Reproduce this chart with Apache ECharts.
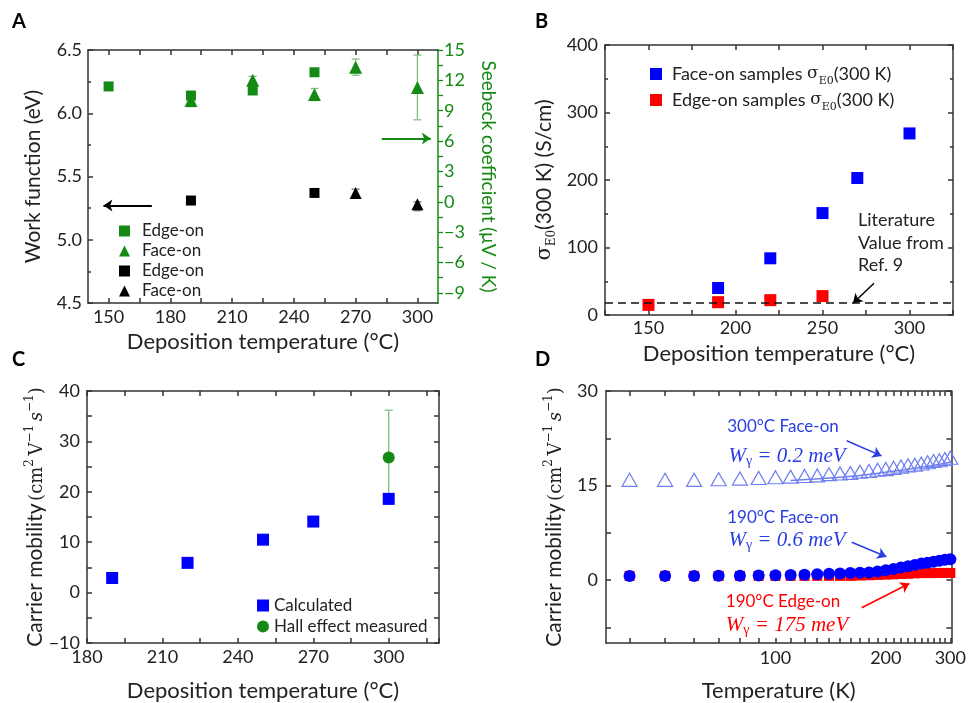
<!DOCTYPE html>
<html><head><meta charset="utf-8">
<script src="https://cdn.jsdelivr.net/npm/echarts@6/dist/echarts.min.js"></script>
<style>html,body{margin:0;padding:0;background:#fff}#c{width:969px;height:703px}</style>
</head><body><div id="c"></div>
<script>
// ---------- Panel A ----------
const depTempAEdge = [150, 190, 220, 250];
const seebeckEdge = [11.4, 10.5, 11.0, 12.8];
const depTempAFace = [190, 220, 250, 270, 300];
const seebeckFace = [10.0, 12.0, 10.6, 13.3, 11.3];
const seebeckFaceLow = [9.4, 11.6, 10.0, 12.5, 8.1];
const seebeckFaceHigh = [10.6, 12.4, 11.2, 14.1, 14.5];
const wfEdgeT = [190, 250];
const wfEdge = [5.31, 5.37];
const wfFaceT = [270, 300];
const wfFace = [5.37, 5.28];
const wfFaceLow = [5.33, 5.23];
const wfFaceHigh = [5.40, 5.30];
const ticksAx = [150, 180, 210, 240, 270, 300];
const ticksSeebeck = [-9, -6, -3, 0, 3, 6, 9, 12, 15];
// ---------- Panel B ----------
const depTempBFace = [190, 220, 250, 270, 300];
const sigmaFace = [40, 84, 151, 203, 269];
const depTempBEdge = [150, 190, 220, 250];
const sigmaEdge = [15, 19, 22, 28];
const literatureSigma = 17.5;
// ---------- Panel C ----------
const depTempC = [190, 220, 250, 270, 300];
const mobilityCalc = [2.9, 5.9, 10.5, 14.1, 18.6];
const hallT = [300];
const hallMobility = [26.8];
const hallLow = [17.5];
const hallHigh = [36.2];
// ---------- Panel D ----------
const tempK = [40,50,60,70,80,90,100,110,120,130,140,150,160,170,180,190,200,210,220,230,240,250,260,270,280,290,300];
const mu300Face = [15.9,15.9,15.9,16.0,16.1,16.2,16.3,16.4,16.5,16.6,16.8,16.9,17.0,17.2,17.3,17.5,17.6,17.8,18.0,18.2,18.3,18.5,18.7,18.9,19.0,19.2,19.4];
const mu190Face = [0.65,0.65,0.65,0.66,0.68,0.7,0.75,0.8,0.85,0.9,1.0,1.05,1.1,1.15,1.2,1.35,1.55,1.75,2.0,2.2,2.4,2.6,2.75,2.9,3.05,3.2,3.3];
const mu190Edge = [0.65,0.65,0.65,0.65,0.65,0.65,0.65,0.65,0.65,0.65,0.65,0.65,0.65,0.7,0.75,0.8,0.85,0.9,0.95,1.0,1.05,1.1,1.1,1.1,1.12,1.12,1.12];
const fitT = [110, 150, 200, 250, 300];
const fit300Face = [15.8, 16.3, 17.1, 17.9, 18.7];
const ticksDxLabel = [100, 200, 300];
const ticksDx = [40,50,60,70,80,90,100,110,120,130,140,150,160,170,180,190,200,210,220,230,240,250,260,270,280,290,300];
const ticksDyLabel = [0, 15, 30];
const ticksDy = [-7.5, 0, 7.5, 15, 22.5, 30];

const zip = (a, b) => a.map((v, i) => [v, b[i]]);
const F = 'Lato';
const SERIF = 'DejaVu Serif';
const TXT = '#222';
const LINE = {color: '#333', width: 1.5};
const GREEN = '#148a14';
const GREEN_L = '#7fc27f';
const BLUE = '#0000ff';
const RED = '#ff0000';
const DBLUE = '#2a3ee0';
const TRI = '#6f7ff0';
const minus = v => (v < 0 ? '\u2212' + (-v) : '' + v);
const nameStyle = {fontFamily: F, fontSize: 21, color: TXT};
const xNameStyle = {fontFamily: F, fontSize: 22, color: TXT};
const lab = (o) => Object.assign({fontFamily: F, fontSize: 18, color: TXT}, o);

function base(o) {
  return Object.assign({
    type: 'value', splitLine: {show: false}, axisPointer: {show: false},
    axisLine: {show: true, onZero: false, lineStyle: LINE}, nameMoveOverlap: false,
    nameTextStyle: nameStyle
  }, o);
}
function frame(gridIndex, pos, o) {
  return base(Object.assign({gridIndex, position: pos, axisLabel: {show: false}}, o));
}
function tick(o) { return Object.assign({show: true, inside: true, length: 5, lineStyle: LINE}, o); }

function errSeries(xi, yi, xs, lo, hi, color) {
  return {
    type: 'custom', xAxisIndex: xi, yAxisIndex: yi, z: 1, silent: true,
    data: xs.map((x, i) => [x, lo[i], hi[i]]),
    encode: {x: 0, y: [1, 2]},
    renderItem: (params, api) => {
      const x = api.value(0);
      const p1 = api.coord([x, api.value(1)]);
      const p2 = api.coord([x, api.value(2)]);
      const w = 4, st = {stroke: color, lineWidth: 1.3};
      return {type: 'group', children: [
        {type: 'line', shape: {x1: p1[0], y1: p1[1], x2: p2[0], y2: p2[1]}, style: st},
        {type: 'line', shape: {x1: p1[0] - w, y1: p1[1], x2: p1[0] + w, y2: p1[1]}, style: st},
        {type: 'line', shape: {x1: p2[0] - w, y1: p2[1], x2: p2[0] + w, y2: p2[1]}, style: st}
      ]};
    }
  };
}
function arrow(color, from, to, width) {
  return {silent: true, symbol: ['none', 'arrow'], symbolSize: 9, animation: false,
    label: {show: false}, lineStyle: {color, width: width || 1.8, type: 'solid'},
    data: [[{coord: from}, {coord: to}]]};
}
const solid = c => ({color: c, opacity: 1});

const muName = '{a|Carrier mobility\u2009}{b|(cm}{p|2}{b|\u2009V}{p|\u22121}{i|\u2009s}{p|\u22121}{b|)}';
const muRich = {
  a: {fontFamily: F, fontSize: 21, color: TXT, lineHeight: 22, verticalAlign: 'bottom'},
  b: {fontFamily: SERIF, fontSize: 18, color: TXT, lineHeight: 22, verticalAlign: 'bottom'},
  i: {fontFamily: SERIF, fontStyle: 'italic', fontSize: 18, color: TXT, lineHeight: 22, verticalAlign: 'bottom'},
  p: {fontFamily: SERIF, fontSize: 12, color: TXT, lineHeight: 12, verticalAlign: 'top'}
};

const option = {
  animation: false,
  backgroundColor: '#fff',
  textStyle: {fontFamily: F},
  grid: [
    {left: 88, top: 50, width: 350, height: 253},
    {left: 605, top: 45, width: 348, height: 270},
    {left: 87, top: 391, width: 352, height: 253},
    {left: 606, top: 391, width: 350, height: 253}
  ],
  xAxis: [
    base({gridIndex: 0, min: 140, max: 310,
      axisTick: tick({customValues: [150,165,180,195,210,225,240,255,270,285,300]}),
      axisLabel: lab({customValues: ticksAx, margin: 5}),
      name: 'Deposition temperature (\u00B0C)', nameLocation: 'middle', nameGap: 28, nameTextStyle: xNameStyle}),
    frame(0, 'top', {min: 140, max: 310, axisTick: tick({customValues: [150,165,180,195,210,225,240,255,270,285,300]})}),
    base({gridIndex: 1, min: 125, max: 325, interval: 25, axisTick: tick({}),
      axisLabel: lab({margin: 4, formatter: v => (v % 50 === 0 ? '' + v : '')}),
      name: 'Deposition temperature (\u00B0C)', nameLocation: 'middle', nameGap: 28, nameTextStyle: xNameStyle}),
    frame(1, 'top', {min: 125, max: 325, interval: 25, axisTick: tick({})}),
    base({gridIndex: 2, min: 180, max: 320, interval: 15, axisTick: tick({}),
      axisLabel: lab({margin: 5, formatter: v => ((v - 180) % 30 === 0 && v <= 300 ? '' + v : '')}),
      name: 'Deposition temperature (\u00B0C)', nameLocation: 'middle', nameGap: 37, nameTextStyle: xNameStyle}),
    frame(2, 'top', {min: 180, max: 320, interval: 15, axisTick: tick({})}),
    base({gridIndex: 3, type: 'log', logBase: 10, min: 34.5, max: 302,
      axisTick: tick({customValues: ticksDx}),
      axisLabel: lab({customValues: ticksDxLabel, margin: 6}),
      name: 'Temperature (K)', nameLocation: 'middle', nameGap: 37, nameTextStyle: xNameStyle}),
    frame(3, 'top', {type: 'log', logBase: 10, min: 34.5, max: 302, axisTick: tick({customValues: ticksDx})})
  ],
  yAxis: [
    base({gridIndex: 0, min: 4.5, max: 6.5, interval: 0.5, axisTick: tick({}),
      minorTick: {show: true, splitNumber: 2, length: 3, lineStyle: LINE},
      axisLabel: lab({margin: 6, formatter: v => v.toFixed(1)}),
      name: 'Work function (eV)', nameLocation: 'middle', nameGap: 44}),
    base({gridIndex: 0, position: 'right', min: -10, max: 15,
      axisLine: {show: true, onZero: false, lineStyle: {color: GREEN, width: 1.5}},
      axisTick: {show: true, inside: false, length: 5, lineStyle: {color: GREEN, width: 1.3},
        customValues: [-9,-7.5,-6,-4.5,-3,-1.5,0,1.5,3,4.5,6,7.5,9,10.5,12,13.5,15]},
      axisLabel: lab({customValues: ticksSeebeck, color: GREEN, margin: 6, formatter: minus}),
      name: 'Seebeck coefficient (\u03BCV / K)', nameLocation: 'middle', nameGap: 41, nameRotate: -90,
      nameTextStyle: {fontFamily: F, fontSize: 19, color: GREEN}}),
    base({gridIndex: 1, min: 0, max: 400, interval: 100, axisTick: tick({}),
      minorTick: {show: true, splitNumber: 2, length: 3, lineStyle: LINE},
      axisLabel: lab({margin: 7}),
      name: '{s|\u03C3}{sub|E0}{n|(300 K) (S/cm)}', nameLocation: 'middle', nameGap: 47,
      nameTextStyle: {rich: {
        s: {fontFamily: SERIF, fontSize: 21, color: TXT, lineHeight: 24, verticalAlign: 'top'},
        sub: {fontFamily: SERIF, fontSize: 12, color: TXT, lineHeight: 12, verticalAlign: 'bottom'},
        n: {fontFamily: F, fontSize: 21, color: TXT, lineHeight: 24, verticalAlign: 'top'}}}}),
    frame(1, 'right', {min: 0, max: 400, interval: 100, axisTick: tick({}),
      minorTick: {show: true, splitNumber: 2, length: 3, lineStyle: LINE}}),
    base({gridIndex: 2, min: -10, max: 40, interval: 5, axisTick: tick({}),
      axisLabel: lab({margin: 7, formatter: v => (v % 10 === 0 ? minus(v) : '')}),
      name: muName, nameLocation: 'middle', nameGap: 41, nameTextStyle: {rich: muRich}}),
    frame(2, 'right', {min: -10, max: 40, interval: 5, axisTick: tick({})}),
    base({gridIndex: 3, min: -10, max: 30, axisTick: tick({customValues: ticksDy}),
      axisLabel: lab({customValues: ticksDyLabel, margin: 8}),
      name: muName, nameLocation: 'middle', nameGap: 41, nameTextStyle: {rich: muRich}}),
    frame(3, 'right', {min: -10, max: 30, axisTick: tick({customValues: ticksDy})})
  ],
  legend: [
    {orient: 'vertical', left: 114, top: 216, itemWidth: 11, itemHeight: 11, itemGap: 0,
      textStyle: {fontFamily: F, fontSize: 17, color: TXT, lineHeight: 20, padding: [0, 0, 0, 7]},
      formatter: n => n.slice(2),
      data: [{name: 'S Edge-on', icon: 'rect'}, {name: 'S Face-on', icon: 'triangle'},
             {name: 'W Edge-on', icon: 'rect'}, {name: 'W Face-on', icon: 'triangle'}]},
    {orient: 'vertical', left: 645, top: 56, itemWidth: 12, itemHeight: 12, itemGap: 0,
      textStyle: {fontFamily: F, fontSize: 18, color: TXT, lineHeight: 26, padding: [0, 0, 0, 5],
        rich: {a: {fontFamily: F, fontSize: 18, color: TXT},
               s: {fontFamily: SERIF, fontSize: 17, color: TXT},
               b: {fontFamily: SERIF, fontSize: 11, color: TXT, verticalAlign: 'bottom', lineHeight: 10}}},
      formatter: n => '{a|' + n + ' }{s|\u03C3}{b|E0}{a|(300 K)}',
      data: [{name: 'Face-on samples', icon: 'rect'}, {name: 'Edge-on samples', icon: 'rect'}]},
    {orient: 'vertical', left: 252, top: 590, itemWidth: 12, itemHeight: 12, itemGap: 0,
      textStyle: {fontFamily: F, fontSize: 17, color: TXT, lineHeight: 21, padding: [0, 0, 0, 0]},
      data: [{name: 'Calculated', icon: 'rect'}, {name: 'Hall effect measured', icon: 'circle'}]}
  ],
  series: [
    // A
    errSeries(0, 1, depTempAFace, seebeckFaceLow, seebeckFaceHigh, GREEN_L),
    {name: 'S Edge-on', type: 'scatter', xAxisIndex: 0, yAxisIndex: 1, symbol: 'rect', symbolSize: 10,
      itemStyle: solid(GREEN), data: zip(depTempAEdge, seebeckEdge),
      markLine: arrow(GREEN, [282.7, 6.25], [306.5, 6.25])},
    {name: 'S Face-on', type: 'scatter', xAxisIndex: 0, yAxisIndex: 1, symbol: 'triangle', symbolSize: 13,
      itemStyle: solid(GREEN), data: zip(depTempAFace, seebeckFace)},
    errSeries(0, 0, wfFaceT, wfFaceLow, wfFaceHigh, '#777'),
    {name: 'W Edge-on', type: 'scatter', xAxisIndex: 0, yAxisIndex: 0, symbol: 'rect', symbolSize: 10,
      itemStyle: solid('#000'), data: zip(wfEdgeT, wfEdge),
      markLine: arrow('#000', [171, 5.27], [147.5, 5.27])},
    {name: 'W Face-on', type: 'scatter', xAxisIndex: 0, yAxisIndex: 0, symbol: 'triangle', symbolSize: 12,
      itemStyle: solid('#000'), data: zip(wfFaceT, wfFace)},
    // B
    {name: 'Face-on samples', type: 'scatter', xAxisIndex: 2, yAxisIndex: 2, symbol: 'rect', symbolSize: 12,
      itemStyle: solid(BLUE), data: zip(depTempBFace, sigmaFace),
      markLine: arrow('#000', [279.6, 47], [267.5, 17.5], 1.5)},
    {name: 'Edge-on samples', type: 'scatter', xAxisIndex: 2, yAxisIndex: 2, symbol: 'rect', symbolSize: 12,
      itemStyle: solid(RED), data: zip(depTempBEdge, sigmaEdge), z: 3,
      markLine: {silent: true, symbol: 'none', label: {show: false}, animation: false,
        lineStyle: {color: '#111', width: 1.5, type: [8, 5]}, data: [{yAxis: literatureSigma}]}},
    // C
    {name: 'Calculated', type: 'scatter', xAxisIndex: 4, yAxisIndex: 4, symbol: 'rect', symbolSize: 12,
      itemStyle: solid(BLUE), data: zip(depTempC, mobilityCalc)},
    errSeries(4, 4, hallT, hallLow, hallHigh, GREEN_L),
    {name: 'Hall effect measured', type: 'scatter', xAxisIndex: 4, yAxisIndex: 4, symbol: 'circle', symbolSize: 12,
      itemStyle: solid(GREEN), data: zip(hallT, hallMobility)},
    // D
    {name: 'fit300', type: 'line', xAxisIndex: 6, yAxisIndex: 6, showSymbol: false, smooth: true,
      lineStyle: {color: TRI, width: 1.5}, data: zip(fitT, fit300Face), z: 1},
    {name: '300 Face-on', type: 'scatter', xAxisIndex: 6, yAxisIndex: 6, symbol: 'triangle', symbolSize: [15, 13],
      itemStyle: {color: 'rgba(255,255,255,0)', borderColor: TRI, borderWidth: 1.2, opacity: 1}, data: zip(tempK, mu300Face),
      markLine: arrow(DBLUE, [156.5, 22.1], [194.7, 19.7], 1.5)},
    {name: '190 Edge-on', type: 'scatter', xAxisIndex: 6, yAxisIndex: 6, symbol: 'rect', symbolSize: 10,
      itemStyle: solid(RED), data: zip(tempK, mu190Edge),
      markLine: arrow(RED, [171.9, -4.4], [232, -0.55], 1.5)},
    {name: '190 Face-on', type: 'scatter', xAxisIndex: 6, yAxisIndex: 6, symbol: 'circle', symbolSize: 12,
      itemStyle: solid(BLUE), data: zip(tempK, mu190Face),
      markLine: arrow(DBLUE, [161.5, 6.0], [200.8, 3.7], 1.5)}
  ],
  graphic: [
    {type: 'text', x: 12, y: 12, style: {text: 'A', font: 'bold 20px Lato', fill: '#000'}},
    {type: 'text', x: 535, y: 12, style: {text: 'B', font: 'bold 20px Lato', fill: '#000'}},
    {type: 'text', x: 12, y: 350, style: {text: 'C', font: 'bold 20px Lato', fill: '#000'}},
    {type: 'text', x: 535, y: 350, style: {text: 'D', font: 'bold 20px Lato', fill: '#000'}},
    {type: 'text', x: 858, y: 209, style: {text: 'Literature\nValue from\nRef. 9', font: '18px Lato', fill: TXT, lineHeight: 22.5}},
    {type: 'text', x: 783, y: 427, style: {text: '300\u00B0C Face-on', font: '17px Lato', fill: DBLUE, align: 'center', verticalAlign: 'middle'}},
    {type: 'text', x: 783, y: 518, style: {text: '190\u00B0C Face-on', font: '17px Lato', fill: DBLUE, align: 'center', verticalAlign: 'middle'}},
    {type: 'text', x: 783, y: 602, style: {text: '190\u00B0C Edge-on', font: '17px Lato', fill: RED, align: 'center', verticalAlign: 'middle'}},
    ...[['0.2', 457, DBLUE], ['0.6', 541, DBLUE], ['175', 626, RED]].map(([v, y, c]) => ({
      type: 'text', x: 787, y: y, style: {
        text: '{w|W}{g|\u03B3}{w| = ' + v + ' meV}', align: 'center', verticalAlign: 'middle',
        rich: {
          w: {fontFamily: 'Liberation Serif', fontStyle: 'italic', fontSize: 21, fill: c, lineHeight: 22, verticalAlign: 'top'},
          g: {fontFamily: 'Liberation Serif', fontSize: 14, fill: c, lineHeight: 12, verticalAlign: 'bottom'}
        }}}))
  ]
};
const chart = echarts.init(document.getElementById('c'));
chart.setOption(option);
</script>
</body></html>
